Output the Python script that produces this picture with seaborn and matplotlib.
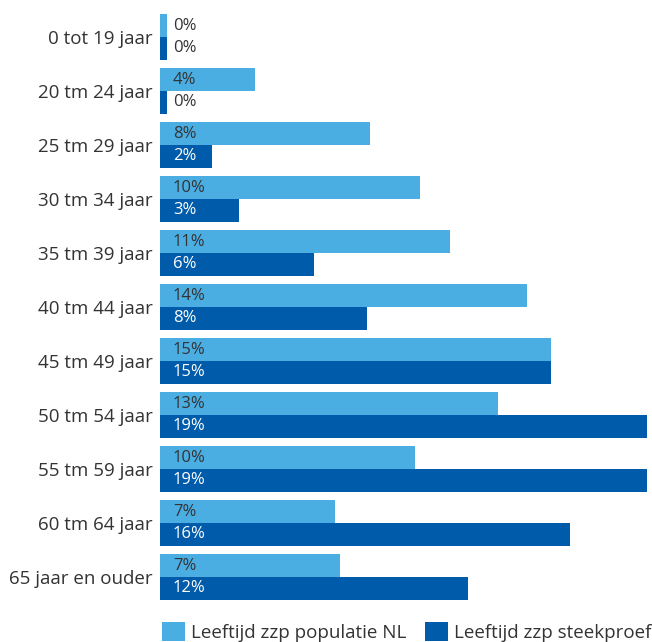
import matplotlib
matplotlib.use("Agg")
import matplotlib.pyplot as plt
import seaborn as sns
import pandas as pd
from matplotlib.patches import Patch

categories = ["0 tot 19 jaar", "20 tm 24 jaar", "25 tm 29 jaar", "30 tm 34 jaar",
              "35 tm 39 jaar", "40 tm 44 jaar", "45 tm 49 jaar", "50 tm 54 jaar",
              "55 tm 59 jaar", "60 tm 64 jaar", "65 jaar en ouder"]
series_names = ["Leeftijd zzp populatie NL", "Leeftijd zzp steekproef"]
populatie = [0.25, 3.65, 8.06, 9.98, 11.14, 14.09, 15.0, 12.98, 9.79, 6.72, 6.91]
steekproef = [0.25, 0.25, 2.0, 3.03, 5.91, 7.95, 15.0, 18.7, 18.7, 15.74, 11.83]
populatie_labels = ["0%", "4%", "8%", "10%", "11%", "14%", "15%", "13%", "10%", "7%", "7%"]
steekproef_labels = ["0%", "0%", "2%", "3%", "6%", "8%", "15%", "19%", "19%", "16%", "12%"]

colors = ["#4BAEE3", "#005BAA"]

sns.set_theme(style="white")
plt.rcParams['font.family'] = ['Open Sans', 'DejaVu Sans']

df = pd.DataFrame({
    "cat": categories * 2,
    "val": populatie + steekproef,
    "series": [series_names[0]] * len(categories) + [series_names[1]] * len(categories),
})

fig = plt.figure(figsize=(6.52, 6.42), dpi=100)
ax = fig.add_axes([160 / 652, 1 - 604 / 642, (647 - 160) / 652, (604 - 10) / 642])

sns.barplot(data=df, y="cat", x="val", hue="series", palette=colors, orient="h",
            width=0.85, saturation=1, ax=ax, legend=False, order=categories,
            linewidth=0, edgecolor="none")

ax.set_xlim(0, 18.7)
ax.set_ylim(len(categories) - 0.5, -0.5)
ax.set_xlabel("")
ax.set_ylabel("")
ax.set_xticks([])
for s in ax.spines.values():
    s.set_visible(False)
ax.tick_params(axis="y", length=0, pad=5, labelsize=13.5, labelcolor="#333333")

all_labels = [populatie_labels, steekproef_labels]
all_vals = [populatie, steekproef]
for si, cont in enumerate(ax.containers):
    for i, bar in enumerate(cont):
        if si == 1 and all_vals[si][i] >= 1:
            tc = "white"
        else:
            tc = "#333333"
        ax.text(0.5, bar.get_y() + bar.get_height() / 2, all_labels[si][i],
                ha="left", va="center", fontsize=12, color=tc)

handles = [Patch(facecolor=c, edgecolor="none") for c in colors]
fig.legend(handles, series_names, loc="lower left", bbox_to_anchor=(162 / 652, 0.0),
           ncol=2, frameon=False, fontsize=13.5, handlelength=1.2, handleheight=1.2,
           handletextpad=0.35, columnspacing=1.0, borderpad=0, borderaxespad=0,
           labelcolor="#333333")

fig.savefig("out.png", dpi=100)
